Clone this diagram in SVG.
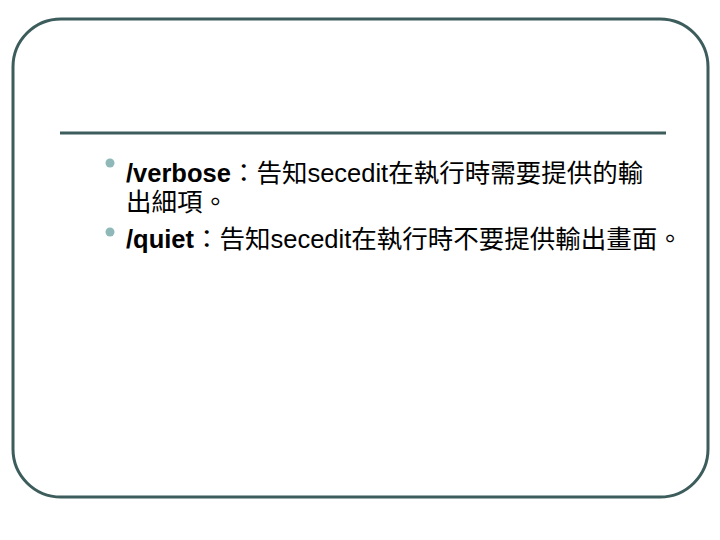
<svg xmlns="http://www.w3.org/2000/svg" width="720" height="540" viewBox="0 0 720 540">
<style>
.t{font-family:"Liberation Sans","Noto Sans CJK TC",sans-serif;font-size:25.5px;fill:#000}
.b{font-weight:bold}
.bul{fill:#8fb8b8}
</style>
<rect width="720" height="540" fill="#fff"/>
<g id="frame">
<rect x="13" y="19" width="695" height="478" rx="48" fill="none" stroke="#3d5c5c" stroke-width="3"/>
<line x1="60" y1="133" x2="666" y2="133" stroke="#3d5c5c" stroke-width="3"/>
</g>
<g id="item1">
<circle class="bul" cx="110" cy="163" r="4.5"/>
<text class="t" x="126" y="182"><tspan class="b">/verbose</tspan>：告知secedit在執行時需要提供的輸</text>
<text class="t" x="126" y="211">出細項。</text>
</g>
<g id="item2">
<circle class="bul" cx="110" cy="232" r="4.5"/>
<text class="t" x="126" y="248"><tspan class="b">/quiet</tspan>：告知secedit在執行時不要提供輸出畫面。</text>
</g>
</svg>
